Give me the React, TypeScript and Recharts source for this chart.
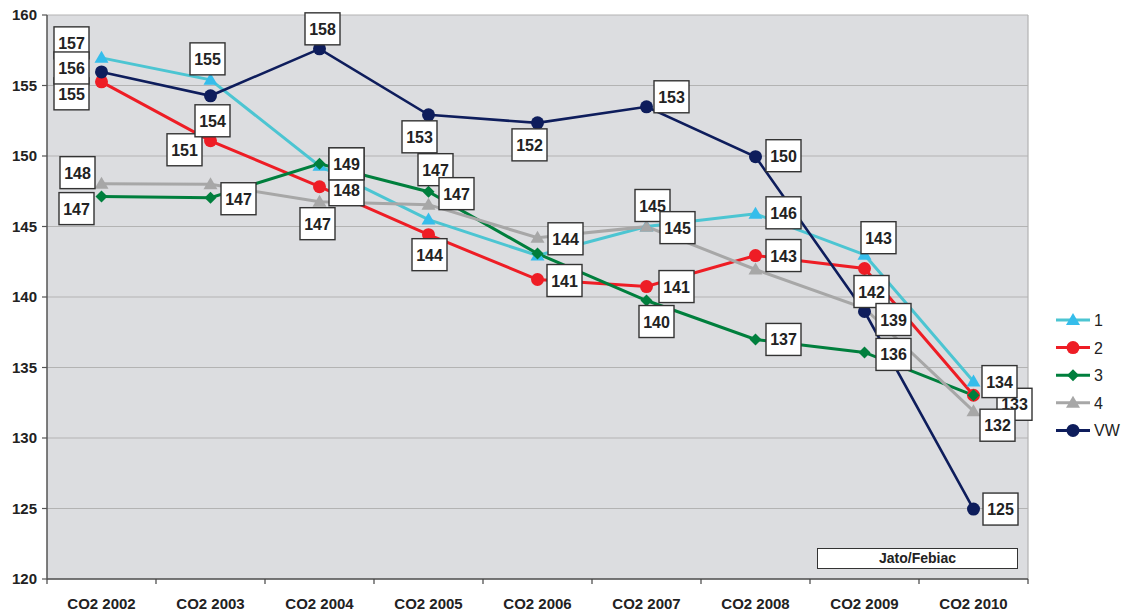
import React from 'react';
import { CartesianGrid, LabelList, Legend, Line, LineChart, XAxis, YAxis } from 'recharts';

const categories = ['CO2 2002', 'CO2 2003', 'CO2 2004', 'CO2 2005', 'CO2 2006', 'CO2 2007', 'CO2 2008', 'CO2 2009', 'CO2 2010'];
const series1 = [156.96, 155.4, 149.3, 145.49, 142.94, 145.0, 145.9, 143.0, 134.0];
const series2 = [155.26, 151.08, 147.82, 144.42, 141.24, 140.74, 142.94, 142.02, 133.03];
const series3 = [147.12, 147.04, 149.45, 147.47, 143.08, 139.75, 136.99, 136.07, 133.03];
const series4 = [148.04, 148.0, 146.76, 146.55, 144.2, 144.99, 141.95, 139.2, 131.9];
const seriesVW = [155.96, 154.27, 157.6, 152.92, 152.35, 153.49, 149.95, 138.97, 124.96];
const yTicks = [120, 125, 130, 135, 140, 145, 150, 155, 160];
const source = 'Jato/Febiac';

const data = categories.map((name, i) => ({
  name,
  s1: series1[i],
  s2: series2[i],
  s3: series3[i],
  s4: series4[i],
  vw: seriesVW[i],
}));

// label box placement (centre relative to the point), null = hidden as in the source
type Off = [number, number] | null;
const off1: Off[] = [[-30, -15], [-3, -21], [27, -2], null, null, [6, -21], [28, -1], [14, -17], [26, 0]];
const off2: Off[] = [[-30, 12], [-26, 9], [27, 3], [1, 20], [27, 1], [30, 0], [28, 0], [7, 23], [41, 9]];
const off3: Off[] = [[-25, 12], [28, 1], [27, 0], [7, -22], null, [10, 21], [28, 0], [29, 2], null];
const off4: Off[] = [[-24, -11], null, [-2, 22], [28, -11], [28, 1], [31, 1], null, null, [24, 14]];
const offVW: Off[] = [[-30, -4], [2, 25], [3, -20], [-9, 22], [-8, 22], [25, -10], [28, -1], [29, 8], [27, 0]];

const FONT = '"Liberation Sans", Arial, sans-serif';
const PLOT_W = 1128 - 47 - 100;
const BAND = PLOT_W / categories.length;
const LEGEND_W = 78;

const C1 = '#4cc5d2';
const C1M = '#35bdeb';
const C2 = '#ee1d25';
const C3 = '#007f3d';
const C4 = '#a7a7a7';
const CVW = '#0e1d5c';

const triangle = (fill: string) => (p: any) => {
  const { cx, cy, index } = p;
  if (cx == null || cy == null) return <g key={`t-${index}`} />;
  return <polygon key={`t-${index}`} points={`${cx},${cy - 7} ${cx - 7},${cy + 5} ${cx + 7},${cy + 5}`} fill={fill} />;
};
const circle = (fill: string) => (p: any) => {
  const { cx, cy, index } = p;
  if (cx == null || cy == null) return <g key={`c-${index}`} />;
  return <circle key={`c-${index}`} cx={cx} cy={cy} r={6.5} fill={fill} />;
};
const diamond = (fill: string) => (p: any) => {
  const { cx, cy, index } = p;
  if (cx == null || cy == null) return <g key={`d-${index}`} />;
  return <polygon key={`d-${index}`} points={`${cx},${cy - 6} ${cx + 6},${cy} ${cx},${cy + 6} ${cx - 6},${cy}`} fill={fill} />;
};

const boxLabel = (offsets: Off[]) => (props: any) => {
  const { value, index } = props;
  const x = props.x ?? props.viewBox?.x;
  const y = props.y ?? props.viewBox?.y;
  const o = offsets[index];
  if (!o || x == null || y == null) return null;
  const cx = x + o[0];
  const cy = y + o[1];
  return (
    <g>
      <rect x={cx - 17.5} y={cy - 16} width={35} height={32} fill="#fff" stroke="#333" strokeWidth={1.4} />
      <text x={cx} y={cy + 6} textAnchor="middle" fontSize={16} fontWeight="bold" fill="#222" fontFamily={FONT}>
        {Math.round(value)}
      </text>
    </g>
  );
};

const XTick = (props: any) => {
  const { x, y, payload, index } = props;
  const axisY = y - 9;
  return (
    <g>
      <line x1={x - BAND / 2} x2={x - BAND / 2} y1={axisY} y2={axisY + 5} stroke="#444" strokeWidth={1.2} />
      {index === categories.length - 1 && (
        <line x1={x + BAND / 2} x2={x + BAND / 2} y1={axisY} y2={axisY + 5} stroke="#444" strokeWidth={1.2} />
      )}
      <text x={x} y={axisY + 30} textAnchor="middle" fontSize={15} fontWeight="bold" fill="#222" fontFamily={FONT}>
        {payload.value}
      </text>
    </g>
  );
};

const legendItems = [
  { name: '1', color: C1, marker: 'tri', mColor: C1M },
  { name: '2', color: C2, marker: 'circle', mColor: C2 },
  { name: '3', color: C3, marker: 'diamond', mColor: C3 },
  { name: '4', color: C4, marker: 'tri', mColor: C4 },
  { name: 'VW', color: CVW, marker: 'circle', mColor: CVW },
];

const renderLegend = () => (
  <svg width={LEGEND_W} height={140}>
    {legendItems.map((it, i) => {
      const cy = 14 + i * 27.6;
      const cx = 23;
      let m;
      if (it.marker === 'tri') m = triangle(it.mColor)({ cx, cy, index: i });
      else if (it.marker === 'circle') m = circle(it.mColor)({ cx, cy, index: i });
      else m = diamond(it.mColor)({ cx, cy, index: i });
      return (
        <g key={it.name}>
          <line x1={6} x2={40} y1={cy} y2={cy} stroke={it.color} strokeWidth={3} />
          {m}
          <text x={44} y={cy + 6} fontSize={16} fill="#222" fontFamily={FONT}>
            {it.name}
          </text>
        </g>
      );
    })}
  </svg>
);

export default function App() {
  return (
    <div style={{ position: 'absolute', left: 0, top: 0, width: 1128, height: 615, background: '#fff', fontFamily: FONT }}>
      <LineChart width={1128} height={615} data={data} margin={{ top: 15, right: 100 - LEGEND_W, bottom: 0, left: 0 }}>
        <CartesianGrid
          fill="#dcdde0"
          stroke="#b3b3b3"
          strokeWidth={1.2}
          vertical={true}
          verticalCoordinatesGenerator={({ offset }: any) => [offset.left + offset.width]}
        />
        <XAxis
          dataKey="name"
          height={36}
          padding={{ left: BAND / 2, right: BAND / 2 }}
          tickLine={false}
          tickSize={5}
          tickMargin={4}
          interval={0}
          axisLine={{ stroke: '#555', strokeWidth: 1.5 }}
          tick={<XTick />}
        />
        <YAxis
          width={47}
          domain={[120, 160]}
          ticks={yTicks}
          interval={0}
          tickSize={5}
          tickMargin={5}
          axisLine={{ stroke: '#555', strokeWidth: 1.5 }}
          tickLine={{ stroke: '#555', strokeWidth: 1.2 }}
          tick={{ fill: '#222', fontSize: 15, fontWeight: 'bold', fontFamily: FONT }}
        />
        <Legend
          layout="vertical"
          verticalAlign="top"
          align="right"
          width={LEGEND_W}
          wrapperStyle={{ position: 'absolute', left: 1050, top: 306, width: LEGEND_W }}
          content={renderLegend}
        />
        <Line dataKey="s1" name="1" stroke={C1} strokeWidth={3} dot={triangle(C1M)} activeDot={false} isAnimationActive={false} />
        <Line dataKey="s2" name="2" stroke={C2} strokeWidth={3} dot={circle(C2)} activeDot={false} isAnimationActive={false} />
        <Line dataKey="s3" name="3" stroke={C3} strokeWidth={3} dot={diamond(C3)} activeDot={false} isAnimationActive={false} />
        <Line dataKey="s4" name="4" stroke={C4} strokeWidth={3} dot={triangle(C4)} activeDot={false} isAnimationActive={false} />
        <Line dataKey="vw" name="VW" stroke={CVW} strokeWidth={2.6} dot={circle(CVW)} activeDot={false} isAnimationActive={false} />

        <Line dataKey="s2" stroke="none" dot={false} activeDot={false} legendType="none" isAnimationActive={false}>
          <LabelList dataKey="s2" content={boxLabel(off2)} />
        </Line>
        <Line dataKey="s3" stroke="none" dot={false} activeDot={false} legendType="none" isAnimationActive={false}>
          <LabelList dataKey="s3" content={boxLabel(off3)} />
        </Line>
        <Line dataKey="s1" stroke="none" dot={false} activeDot={false} legendType="none" isAnimationActive={false}>
          <LabelList dataKey="s1" content={boxLabel(off1)} />
        </Line>
        <Line dataKey="s4" stroke="none" dot={false} activeDot={false} legendType="none" isAnimationActive={false}>
          <LabelList dataKey="s4" content={boxLabel(off4)} />
        </Line>
        <Line dataKey="vw" stroke="none" dot={false} activeDot={false} legendType="none" isAnimationActive={false}>
          <LabelList dataKey="vw" content={boxLabel(offVW)} />
        </Line>
      </LineChart>
      <div
        style={{
          position: 'absolute',
          left: 817,
          top: 548,
          width: 199,
          height: 19,
          background: '#fff',
          border: '1.4px solid #333',
          textAlign: 'center',
          fontSize: 14,
          fontWeight: 'bold',
          lineHeight: '19px',
          color: '#222',
        }}
      >
        {source}
      </div>
    </div>
  );
}
